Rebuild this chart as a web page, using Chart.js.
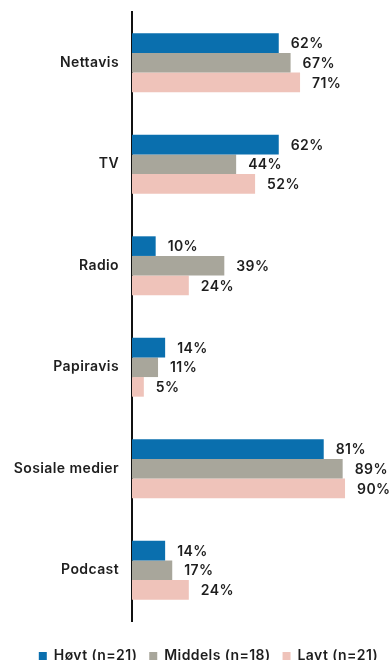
<!DOCTYPE html>
<html>
<head>
<meta charset="utf-8">
<script src="https://cdn.jsdelivr.net/npm/chart.js@4"></script>
<style>
  html, body { margin: 0; padding: 0; background: #fff; overflow: hidden; }
  #wrap { width: 390px; height: 673px; }
</style>
</head>
<body>
<div id="wrap"><canvas id="medier"></canvas></div>
<script>
const kategorier = ['Nettavis', 'TV', 'Radio', 'Papiravis', 'Sosiale medier', 'Podcast'];
const hoyt = [62, 62, 10, 14, 81, 14];
const middels = [67, 44, 39, 11, 89, 17];
const lavt = [71, 52, 24, 5, 90, 24];
const serier = ['Høyt (n=21)', 'Middels (n=18)', 'Lavt (n=21)'];
const farger = ['#0a6fae', '#a8a69b', '#efc3ba'];

const fontFamily = 'Inter, "Open Sans", sans-serif';

// litt luftigere tekst, settes før måling og tegning
const sperring = {
  id: 'sperring',
  beforeUpdate(chart) { chart.ctx.letterSpacing = '0.4px'; },
  beforeDraw(chart) { chart.ctx.letterSpacing = '0.4px'; }
};

// prosentetikett til høyre for hver stolpe
const verdiEtiketter = {
  id: 'verdiEtiketter',
  afterDatasetsDraw(chart) {
    const ctx = chart.ctx;
    ctx.save();
    ctx.font = '600 14px ' + fontFamily;
    ctx.fillStyle = '#1e1e1e';
    ctx.textBaseline = 'middle';
    chart.data.datasets.forEach((ds, i) => {
      chart.getDatasetMeta(i).data.forEach((bar, j) => {
        ctx.fillText(ds.data[j] + '%', bar.x + 12, bar.y + 1);
      });
    });
    ctx.restore();
  }
};

new Chart(document.getElementById('medier'), {
  type: 'bar',
  data: {
    labels: kategorier,
    datasets: [
      { label: serier[0], data: hoyt, backgroundColor: farger[0] },
      { label: serier[1], data: middels, backgroundColor: farger[1] },
      { label: serier[2], data: lavt, backgroundColor: farger[2] }
    ]
  },
  options: {
    indexAxis: 'y',
    responsive: true,
    maintainAspectRatio: false,
    animation: false,
    datasets: {
      bar: { categoryPercentage: 0.58, barPercentage: 1.0 }
    },
    layout: { padding: { top: 12, right: 0, left: 0, bottom: 0 } },
    scales: {
      x: {
        min: 0,
        max: 109,
        afterFit(scale) { scale.height = 16; },
        grid: { display: false },
        border: { display: false },
        ticks: { display: false }
      },
      y: {
        afterFit(scale) {
          scale.width = 132;
          scale.paddingTop = 0;
          scale.paddingBottom = 0;
        },
        grid: { display: false, drawTicks: false },
        border: { display: true, color: '#111', width: 2 },
        ticks: {
          padding: 13,
          color: '#1e1e1e',
          font: { family: fontFamily, size: 14, weight: '600' }
        }
      }
    },
    plugins: {
      tooltip: { enabled: false },
      legend: {
        position: 'bottom',
        align: 'end',
        labels: {
          boxWidth: 8,
          boxHeight: 8,
          padding: 12,
          color: '#1e1e1e',
          font: { family: fontFamily, size: 14, weight: '600' }
        }
      }
    }
  },
  plugins: [sperring, verdiEtiketter]
});
</script>
</body>
</html>
